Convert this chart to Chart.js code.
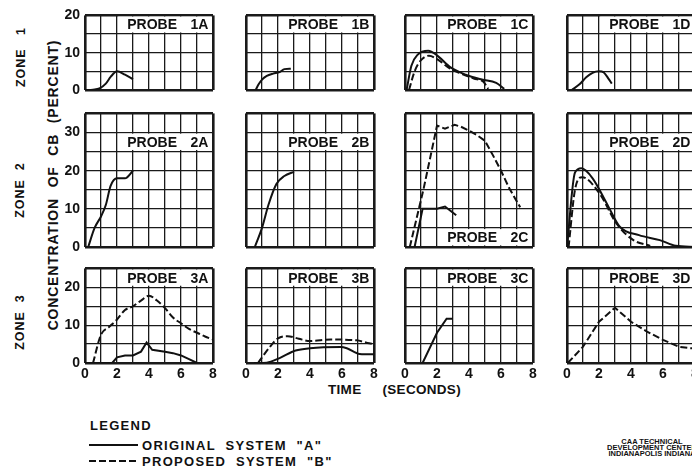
<!DOCTYPE html>
<html>
<head>
<meta charset="utf-8">
<script src="https://cdn.jsdelivr.net/npm/chart.js@4.4.0/dist/chart.umd.min.js"></script>
<style>
  html, body { margin: 0; padding: 0; background: #fff; }
  body {
    position: relative; width: 692px; height: 469px; overflow: hidden;
    font-family: "Liberation Sans", Arial, sans-serif; font-weight: bold; color: #111;
  }
  canvas { position: absolute; }
  .txt { position: absolute; white-space: pre; line-height: 1; }
  .vert { transform: translate(-50%, -50%) rotate(-90deg); }
  .mid { transform: translateY(-50%); }
  .zone { font-size: 12.5px; letter-spacing: 1px; }
  .ylabel { font-size: 14px; letter-spacing: 0.8px; word-spacing: 6px; }
  .xlabel { font-size: 13.5px; letter-spacing: 0.3px; word-spacing: 17px; }
  .legend { font-size: 13px; letter-spacing: 1.3px; }
  .key { position: absolute; height: 2px; width: 49px; }
  .solid { background: #111; }
  .dashed { background: repeating-linear-gradient(90deg, #111 0 7px, transparent 7px 10px); }
  .stamp { position: absolute; left: 652px; top: 439px; transform: translateX(-50%);
           font-size: 7.5px; line-height: 5.8px; text-align: center; white-space: pre; }
</style>
</head>
<body>

<div class="txt vert zone" style="left:21px;top:57px">ZONE   1</div>
<div class="txt vert zone" style="left:20px;top:190px">ZONE  2</div>
<div class="txt vert zone" style="left:20px;top:322px">ZONE  3</div>
<div class="txt vert ylabel" style="left:53px;top:185px">CONCENTRATION OF CB (PERCENT)</div>
<div class="txt mid xlabel" style="left:328px;top:390px">TIME (SECONDS)</div>

<div class="txt mid legend" style="left:90px;top:425px">LEGEND</div>
<div class="key solid" style="left:89px;top:444px"></div>
<div class="txt mid legend" style="left:142px;top:445px">ORIGINAL  SYSTEM  "A"</div>
<div class="key dashed" style="left:89px;top:460px"></div>
<div class="txt mid legend" style="left:142px;top:461px">PROPOSED  SYSTEM  "B"</div>
<div class="stamp">CAA TECHNICAL
DEVELOPMENT CENTER
INDIANAPOLIS INDIANA</div>

<script>
// time axis (seconds) and concentration ranges per zone
const timeMax = 8;
const zoneMax = [20, 35, 25];

// [time, concentration %] readings, system "A" = original, "B" = proposed
const p1A_orig = [[0, 0], [0.5, 0.1], [0.9, 0.4], [1.3, 1.7], [1.6, 3.5], [2, 5], [2.5, 4.1], [3, 2.9]];
const p1B_orig = [[0.6, 0], [0.8, 1.6], [1, 2.8], [1.3, 3.8], [1.7, 4.4], [2.1, 4.8], [2.4, 5.6], [2.8, 5.7]];
const p1C_orig = [[0.1, 0], [0.4, 6.5], [0.8, 9.5], [1.45, 10.5], [2, 9.3], [2.8, 6.2], [3.8, 4.1], [4.8, 2.8], [5.7, 1.9], [6.2, 0.3]];
const p1C_prop = [[0.25, 0], [0.6, 5], [1, 8], [1.5, 9.2], [2, 8.3], [2.8, 5.8], [3.5, 4.4], [4.3, 3.1], [4.9, 2.2], [5.2, 0.3]];
const p1D_orig = [[0.3, 0], [0.8, 1.6], [1.2, 3.4], [1.6, 4.6], [2, 5], [2.3, 4.7], [2.6, 3], [2.8, 1.7]];

const p2A_orig = [[0.2, 0], [0.6, 5], [1, 8], [1.3, 11], [1.6, 16], [2, 18], [2.5, 18], [3, 20]];
const p2B_orig = [[0.55, 0], [1, 5], [1.4, 11], [1.9, 16.5], [2.4, 18.6], [3, 19.7]];
const p2C_orig = [[0.6, 0], [0.85, 5], [1.1, 10], [2, 10], [2.5, 10.6], [3.2, 8.3]];
const p2C_prop = [[0.3, 0], [1.15, 15], [2, 31.8], [2.5, 31], [3.1, 32], [3.5, 31.5], [4, 30.5], [4.5, 29.3], [5, 27.8], [5.5, 24], [6, 20], [6.5, 15.5], [7.2, 10.4]];
const p2D_orig = [[0, 0], [0.5, 19.5], [0.9, 20.6], [1.6, 18], [2.5, 11.3], [3.3, 5.3], [4.5, 3.1], [5.8, 1.8], [6.8, 0.3], [8, 0]];
const p2D_prop = [[0.1, 0], [0.5, 15], [0.95, 18.3], [2.05, 13.9], [3.1, 6.1], [4.15, 1.8], [5.2, 0.3]];

const p3A_orig = [[0, 0], [1.7, 0], [2, 1.5], [2.5, 2], [3, 2], [3.5, 3], [3.85, 5.4], [4.2, 3.5], [5, 3], [5.5, 2.6], [6, 2], [6.5, 1], [7, 0]];
const p3A_prop = [[0.5, 0], [1, 7.5], [1.5, 9.5], [2, 11.5], [2.5, 14], [3, 15], [3.5, 16.5], [4, 17.8], [4.5, 16.5], [5, 14.5], [5.5, 12], [6, 10.5], [6.5, 9], [7, 8], [7.5, 7], [8, 6.2]];
const p3B_orig = [[0.5, 0], [1.3, 0.1], [2.1, 1.3], [3.1, 3.3], [4, 3.9], [5.9, 4.2], [6.3, 3.9], [7.1, 2.4], [8, 2.3]];
const p3B_prop = [[0.75, 0], [1.5, 4.3], [2, 6.5], [2.6, 7.1], [3.3, 6.4], [4, 5.8], [5.3, 6.2], [6.9, 6], [7.7, 5.2], [8, 5]];
const p3C_orig = [[1.1, 0], [2, 8], [2.6, 11.7], [3, 11.7]];
const p3D_prop = [[0.05, 0], [1, 4.3], [2, 10.9], [3, 14.6], [4, 10.9], [5, 8.3], [6, 6.1], [7, 4.3], [7.7, 3.9], [8, 3.9]];

// panel grid: row = zone, col = probe letter; band = grid row behind the probe tag
const panels = [
  { row: 0, col: 0, tag: "1A", band: [15, 20], orig: p1A_orig },
  { row: 0, col: 1, tag: "1B", band: [15, 20], orig: p1B_orig },
  { row: 0, col: 2, tag: "1C", band: [15, 20], orig: p1C_orig, prop: p1C_prop },
  { row: 0, col: 3, tag: "1D", band: [15, 20], orig: p1D_orig },
  { row: 1, col: 0, tag: "2A", band: [25, 30], orig: p2A_orig },
  { row: 1, col: 1, tag: "2B", band: [25, 30], orig: p2B_orig },
  { row: 1, col: 2, tag: "2C", band: [0, 5], orig: p2C_orig, prop: p2C_prop, sharp: true },
  { row: 1, col: 3, tag: "2D", band: [25, 30], orig: p2D_orig, prop: p2D_prop },
  { row: 2, col: 0, tag: "3A", band: [20, 25], orig: p3A_orig, prop: p3A_prop, sharpOrig: true },
  { row: 2, col: 1, tag: "3B", band: [20, 25], orig: p3B_orig, prop: p3B_prop },
  { row: 2, col: 2, tag: "3C", band: [20, 25], orig: p3C_orig, sharp: true },
  { row: 2, col: 3, tag: "3D", band: [20, 25], prop: p3D_prop, sharp: true },
];

// layout of the plot boxes on the page
const colLeft = [85, 246, 405, 567];
const rowTop = [12, 110, 265];
const rowHeight = [78, 137, 98];
const plotWidth = 128;
const PAD_L = 34, PAD_R = 7, PAD_T = 10, PAD_B = 26;

Chart.defaults.font.family = '"Liberation Sans", Arial, sans-serif';
Chart.defaults.font.size = 14;
Chart.defaults.font.weight = "bold";
Chart.defaults.color = "#111";

// white tag with the probe name, cut out of one grid row
const probeTag = {
  id: "probeTag",
  afterDraw(chart, args, opts) {
    const { ctx, scales: { x, y } } = chart;
    const left = x.getPixelForValue(2) + 1.2;
    const right = x.getPixelForValue(timeMax) - 1.6;
    const top = y.getPixelForValue(opts.band[1]) + 1.2;
    const bottom = y.getPixelForValue(opts.band[0]) - 1.6;
    const mid = (top + bottom) / 2 + 1;
    ctx.save();
    ctx.fillStyle = "#fff";
    ctx.fillRect(left, top, right - left, bottom - top);
    ctx.fillStyle = "#111";
    ctx.font = 'bold 14px "Liberation Sans", Arial, sans-serif';
    ctx.textBaseline = "middle";
    ctx.textAlign = "left";
    ctx.fillText("PROBE", left + 9, mid);
    ctx.textAlign = "right";
    ctx.fillText(opts.tag, right - 3, mid);
    ctx.restore();
  },
};

const lineSet = (data, dashed, sharp) => ({
  data: data.map(([t, c]) => ({ x: t, y: c })),
  showLine: true,
  borderColor: "#111",
  borderWidth: 2,
  borderDash: dashed ? [7, 3] : [],
  pointRadius: 0,
  tension: sharp ? 0 : 0.4,
  cubicInterpolationMode: sharp ? "default" : "monotone",
});

panels.forEach((p) => {
  const yMax = zoneMax[p.row];
  const canvas = document.createElement("canvas");
  canvas.width = PAD_L + plotWidth + PAD_R;
  canvas.height = PAD_T + rowHeight[p.row] + PAD_B;
  canvas.style.left = colLeft[p.col] - PAD_L + "px";
  canvas.style.top = rowTop[p.row] - PAD_T + "px";
  document.body.appendChild(canvas);

  const datasets = [];
  if (p.prop) datasets.push(lineSet(p.prop, true, p.sharp));
  if (p.orig) datasets.push(lineSet(p.orig, false, p.sharp || p.sharpOrig));

  // heavier frame on the outer edges, thinner inner grid
  const frame = (max) => (ctx) =>
    ctx.tick && (ctx.tick.value === 0 || ctx.tick.value === max) ? 2.6 : 1.3;

  new Chart(canvas.getContext("2d"), {
    type: "scatter",
    data: { datasets },
    plugins: [probeTag],
    options: {
      responsive: false,
      animation: false,
      events: [],
      layout: { padding: { top: PAD_T, right: PAD_R, left: 0, bottom: 0 } },
      plugins: {
        legend: { display: false },
        tooltip: { enabled: false },
        probeTag: { tag: p.tag, band: p.band },
      },
      scales: {
        x: {
          type: "linear",
          min: 0,
          max: timeMax,
          afterFit: (s) => { s.height = PAD_B; },
          border: { display: false },
          grid: { color: "#1a1a1a", lineWidth: frame(timeMax), drawTicks: false },
          ticks: {
            stepSize: 1,
            autoSkip: false,
            maxRotation: 0,
            padding: 3,
            callback: (v) => (p.row === 2 && v % 2 === 0 ? String(v) : ""),
          },
        },
        y: {
          type: "linear",
          min: 0,
          max: yMax,
          afterFit: (s) => { s.width = PAD_L; },
          border: { display: false },
          grid: { color: "#1a1a1a", lineWidth: frame(yMax), drawTicks: false },
          ticks: {
            stepSize: 5,
            autoSkip: false,
            padding: 5,
            callback: (v) => (p.col === 0 && v % 10 === 0 ? String(v) : ""),
          },
        },
      },
    },
  });
});
</script>
</body>
</html>
